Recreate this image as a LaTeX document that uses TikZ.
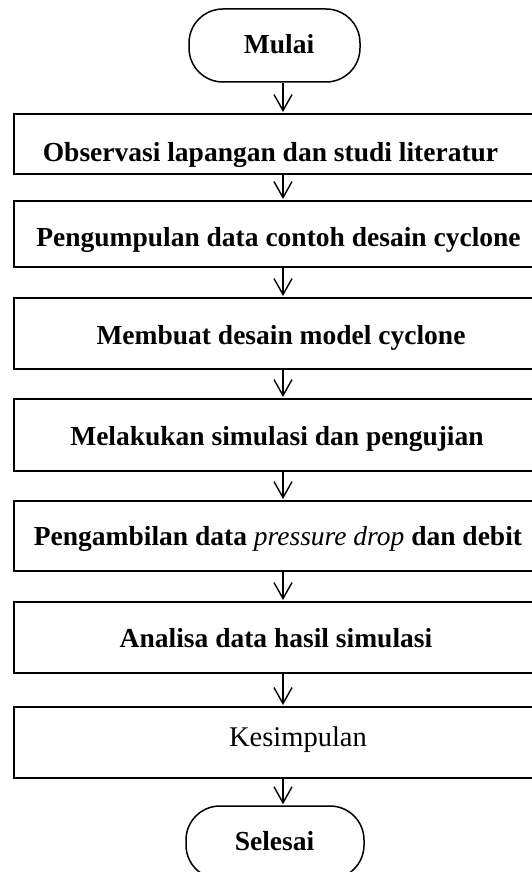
\documentclass[tikz,border=0pt]{standalone}
\usepackage{fontspec}
\setmainfont{Liberation Serif}
\usetikzlibrary{arrows.meta}
\begin{document}
\begin{tikzpicture}[x=1pt,y=-1pt,
  boxstyle/.style={draw, line width=2pt, rectangle, minimum width=540pt, inner sep=0pt},
  termstyle/.style={draw, line width=1.5pt, rectangle, rounded corners=34pt, minimum height=73pt, inner sep=0pt},
  txt/.style={font=\fontsize{27.5}{33}\selectfont\bfseries, inner sep=0pt, anchor=base},
  plaintxt/.style={font=\fontsize{28.5}{34}\selectfont, inner sep=0pt, anchor=base},
  arr/.style={-{Straight Barb[length=16pt,width=18pt,line width=1.4pt]}, line width=1.4pt, shorten >=1pt}]
\useasboundingbox (0,0) rectangle (531,872);

\coordinate (ax) at (283,0);

\node[termstyle, minimum width=171pt] (mulai) at (274.5,45.5) {};
\node[txt] (tmulai) at (279,53.5) {Mulai};

\node[boxstyle, minimum height=60pt] (b1) at (284,144) {};
\node[txt] (t1) at (270.5,161) {Observasi lapangan dan studi literatur};

\node[boxstyle, minimum height=66pt] (b2) at (284,234) {};
\node[txt] (t2) at (278.5,246) {Pengumpulan data contoh desain cyclone};

\node[boxstyle, minimum height=71pt] (b3) at (284,333.5) {};
\node[txt] (t3) at (281,344) {Membuat desain model cyclone};

\node[boxstyle, minimum height=72pt] (b4) at (284,435) {};
\node[txt] (t4) at (277,445) {Melakukan simulasi dan pengujian};

\node[boxstyle, minimum height=70pt] (b5) at (284,536) {};
\node[txt] (t5) at (278,545) {Pengambilan data \textit{\mdseries pressure drop} dan debit};

\node[boxstyle, minimum height=71pt] (b6) at (284,637.5) {};
\node[txt] (t6) at (276,647) {Analisa data hasil simulasi};

\node[boxstyle, minimum height=71pt] (b7) at (284,742.5) {};
\node[plaintxt] (t7) at (298,746) {Kesimpulan};

\node[termstyle, minimum width=178pt] (selesai) at (275,842.5) {};
\node[txt] (tselesai) at (274.5,850) {Selesai};

\draw[arr] (mulai.south -| ax) -- (b1.north -| ax);
\draw[arr] (b1.south -| ax) -- (b2.north -| ax);
\draw[arr] (b2.south -| ax) -- (b3.north -| ax);
\draw[arr] (b3.south -| ax) -- (b4.north -| ax);
\draw[arr] (b4.south -| ax) -- (b5.north -| ax);
\draw[arr] (b5.south -| ax) -- (b6.north -| ax);
\draw[arr] (b6.south -| ax) -- (b7.north -| ax);
\draw[arr] (b7.south -| ax) -- (selesai.north -| ax);
\end{tikzpicture}
\end{document}
